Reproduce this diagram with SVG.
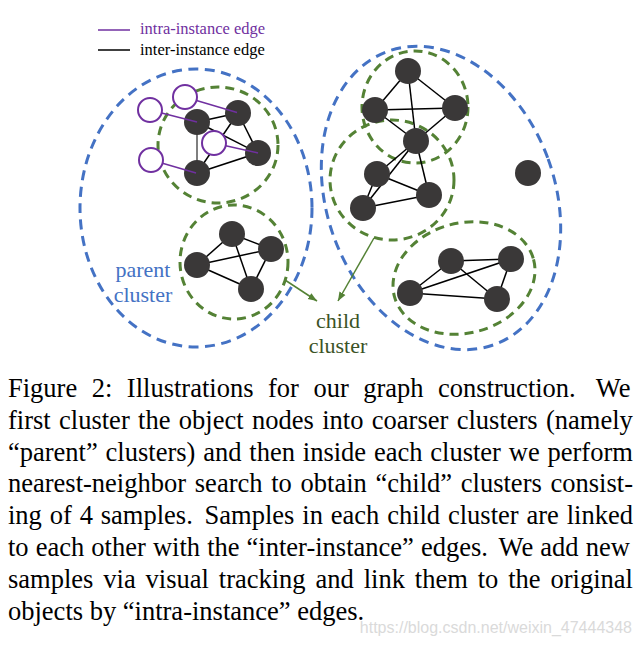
<svg xmlns="http://www.w3.org/2000/svg" width="642" height="647" viewBox="0 0 642 647">
<defs>
<style>
.parent{fill:none;stroke:#4472C4;stroke-width:3;stroke-dasharray:10 6.5}
.child{fill:none;stroke:#548235;stroke-width:3;stroke-dasharray:9 6}
.node{fill:#3A3838}
.inst{fill:#fff;stroke:#7030A0;stroke-width:2}
.e{stroke:#000;stroke-width:1.5}
.ie{stroke:#7030A0;stroke-width:1.5}
.ptr{stroke:#548235;stroke-width:1.5;fill:none}
.cap{font-family:"Liberation Serif","Times New Roman",serif;font-size:26.5px;fill:#000}
.lbl{font-family:"Liberation Serif","Times New Roman",serif;font-size:22px;text-anchor:middle}
.leg{font-family:"Liberation Serif","Times New Roman",serif;font-size:16.5px}
</style>
<marker id="ah" markerUnits="userSpaceOnUse" markerWidth="10" markerHeight="8" refX="9" refY="4" orient="auto">
<path d="M0,0.5 L9,4 L0,7.5 Z" fill="#548235"/>
</marker>
</defs>
<rect width="642" height="647" fill="#fff"/>

<g id="legend">
<line x1="98" y1="30" x2="130" y2="30" class="ie"/>
<text x="140" y="34" class="leg" fill="#7030A0">intra-instance edge</text>
<line x1="98" y1="50" x2="130" y2="50" class="e"/>
<text x="140" y="55" class="leg" fill="#000">inter-instance edge</text>
</g>

<g id="parent-clusters">
<ellipse id="parent-left" class="parent" cx="196" cy="208" rx="116" ry="139"/>
<ellipse id="parent-right" class="parent" cx="441" cy="198" rx="114" ry="156" transform="rotate(-20 441 198)"/>
</g>

<g id="child-clusters">
<ellipse id="child-lt" class="child" cx="218" cy="145" rx="60" ry="58"/>
<ellipse id="child-lb" class="child" cx="234" cy="262" rx="54" ry="57"/>
<ellipse id="child-rt" class="child" cx="415" cy="107" rx="53" ry="56"/>
<ellipse id="child-rm" class="child" cx="392" cy="180" rx="62" ry="60"/>
<ellipse id="child-rb" class="child" cx="464" cy="278" rx="72" ry="55" transform="rotate(-15 464 278)"/>
</g>

<g id="connectors">
<!-- left top -->
<line class="e" x1="197" y1="122" x2="238" y2="113"/>
<line class="e" x1="197" y1="122" x2="258" y2="153"/>
<line x1="197" y1="122" x2="197" y2="173" stroke="#7F7F7F" stroke-width="2"/>
<line class="e" x1="238" y1="113" x2="258" y2="153"/>
<line class="e" x1="238" y1="113" x2="197" y2="173"/>
<line class="e" x1="258" y1="153" x2="197" y2="173"/>
<!-- left bottom -->
<line class="e" x1="197" y1="265" x2="232" y2="234"/>
<line class="e" x1="197" y1="265" x2="271" y2="249"/>
<line class="e" x1="197" y1="265" x2="251" y2="289"/>
<line class="e" x1="232" y1="234" x2="271" y2="249"/>
<line class="e" x1="232" y1="234" x2="251" y2="289"/>
<line class="e" x1="271" y1="249" x2="251" y2="289"/>
<!-- right top -->
<line class="e" x1="408" y1="71" x2="375" y2="110"/>
<line class="e" x1="408" y1="71" x2="455" y2="108"/>
<line class="e" x1="408" y1="71" x2="416" y2="141"/>
<line class="e" x1="375" y1="110" x2="455" y2="108"/>
<line class="e" x1="375" y1="110" x2="416" y2="141"/>
<line class="e" x1="455" y1="108" x2="416" y2="141"/>
<!-- right middle -->
<line class="e" x1="416" y1="141" x2="377" y2="174"/>
<line class="e" x1="416" y1="141" x2="363" y2="208"/>
<line class="e" x1="416" y1="141" x2="429" y2="195"/>
<line class="e" x1="377" y1="174" x2="429" y2="195"/>
<line class="e" x1="377" y1="174" x2="363" y2="208"/>
<line class="e" x1="363" y1="208" x2="429" y2="195"/>
<!-- right bottom -->
<line class="e" x1="451" y1="261" x2="511" y2="259"/>
<line class="e" x1="451" y1="261" x2="410" y2="293"/>
<line class="e" x1="451" y1="261" x2="497" y2="299"/>
<line class="e" x1="511" y1="259" x2="410" y2="293"/>
<line class="e" x1="511" y1="259" x2="497" y2="299"/>
<line class="e" x1="410" y1="293" x2="497" y2="299"/>
<!-- label pointers -->
<line class="ptr" x1="285" y1="280" x2="317" y2="301" marker-end="url(#ah)"/>
<line class="ptr" x1="374" y1="238" x2="338" y2="301" marker-end="url(#ah)"/>
</g>

<g id="n-a"><circle class="node" cx="197" cy="122" r="13"/></g>
<g id="n-b"><circle class="node" cx="238" cy="113" r="13"/></g>
<g id="n-c"><circle class="node" cx="258" cy="153" r="13"/></g>
<g id="n-d"><circle class="node" cx="197" cy="173" r="13"/></g>
<g id="n-e"><circle class="node" cx="197" cy="265" r="13"/></g>
<g id="n-f"><circle class="node" cx="232" cy="234" r="13"/></g>
<g id="n-g"><circle class="node" cx="271" cy="249" r="13"/></g>
<g id="n-h"><circle class="node" cx="251" cy="289" r="13"/></g>
<g id="n-r1"><circle class="node" cx="408" cy="71" r="13"/></g>
<g id="n-r2"><circle class="node" cx="375" cy="110" r="13"/></g>
<g id="n-r3"><circle class="node" cx="455" cy="108" r="13"/></g>
<g id="n-r4"><circle class="node" cx="416" cy="141" r="13"/></g>
<g id="n-r5"><circle class="node" cx="377" cy="174" r="13"/></g>
<g id="n-r6"><circle class="node" cx="429" cy="195" r="13"/></g>
<g id="n-r7"><circle class="node" cx="363" cy="208" r="13"/></g>
<g id="n-lone"><circle class="node" cx="528" cy="173" r="13"/></g>
<g id="n-s1"><circle class="node" cx="451" cy="261" r="13"/></g>
<g id="n-s2"><circle class="node" cx="511" cy="259" r="13"/></g>
<g id="n-s3"><circle class="node" cx="410" cy="293" r="13"/></g>
<g id="n-s4"><circle class="node" cx="497" cy="299" r="13"/></g>

<g id="n-p1"><circle class="inst" cx="150" cy="110" r="12"/></g>
<g id="n-p2"><circle class="inst" cx="185" cy="97" r="12"/></g>
<g id="n-p3"><circle class="inst" cx="214" cy="143" r="12"/></g>
<g id="n-p4"><circle class="inst" cx="151" cy="160" r="12"/></g>

<g id="intra-edges">
<line class="ie" x1="161.6" y1="113" x2="197" y2="122"/>
<line class="ie" x1="196.5" y1="100.5" x2="237" y2="112.5"/>
<line class="ie" x1="225.7" y1="145.7" x2="258" y2="153"/>
<line class="ie" x1="162.5" y1="163.3" x2="196" y2="173"/>
</g>

<g id="labels">
<text class="lbl" x="143" y="277" fill="#4472C4">parent</text>
<text class="lbl" x="143" y="302" fill="#4472C4">cluster</text>
<text class="lbl" x="338" y="328" fill="#3B5326">child</text>
<text class="lbl" x="338" y="353" fill="#3B5326">cluster</text>
</g>

<g id="caption">
<text class="cap" x="8" y="397" word-spacing="7.9">Figure 2: Illustrations for our graph construction. <tspan dx="6">We</tspan></text>
<text class="cap" x="8" y="428.8" word-spacing="1.76">first cluster the object nodes into coarser clusters (namely</text>
<text class="cap" x="8" y="460.6" word-spacing="1.22">“parent” clusters) and then inside each cluster we perform</text>
<text class="cap" x="8" y="492.4" word-spacing="2.12">nearest-neighbor search to obtain “child” clusters consist-</text>
<text class="cap" x="8" y="524.2" word-spacing="1.23">ing of 4 samples. <tspan dx="4">Samples</tspan> in each child cluster are linked</text>
<text class="cap" x="8" y="556" word-spacing="0.48">to each other with the “inter-instance” edges. <tspan dx="4">We</tspan> add new</text>
<text class="cap" x="8" y="587.8" word-spacing="3.28">samples via visual tracking and link them to the original</text>
<text class="cap" x="8" y="619.6">objects by “intra-instance” edges.</text>
</g>

<text x="632" y="633" text-anchor="end" font-family="Liberation Sans, Arial, sans-serif" font-size="16" fill="#DADADA">https://blog.csdn.net/weixin_47444348</text>
</svg>
